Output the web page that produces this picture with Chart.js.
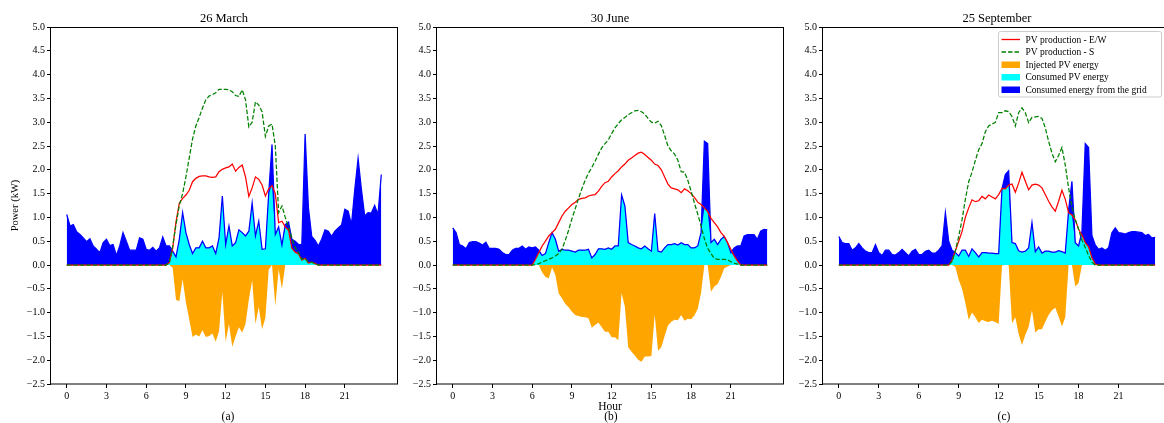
<!DOCTYPE html>
<html><head><meta charset="utf-8">
<script src="https://cdn.jsdelivr.net/npm/chart.js@4.4.0/dist/chart.umd.min.js"></script>
<style>
html,body{margin:0;padding:0;background:#fff;}
body{width:1164px;height:423px;overflow:hidden;position:relative;}
canvas{position:absolute;top:0;}
.t{position:absolute;font-family:"Liberation Serif",serif;color:#000;white-space:nowrap;transform:translate(-50%,-50%);line-height:1;}
</style></head><body>
<canvas id="c1" width="400" height="423" style="left:0px"></canvas>
<canvas id="c2" width="400" height="423" style="left:390px"></canvas>
<canvas id="c3" width="400" height="423" style="left:780px"></canvas>
<div class="t" style="left:224px;top:17.5px;font-size:12.5px">26 March</div>
<div class="t" style="left:610px;top:17.5px;font-size:12.5px">30 June</div>
<div class="t" style="left:997px;top:17.5px;font-size:12.5px">25 September</div>
<div class="t" style="left:228px;top:416.5px;font-size:11.5px">(a)</div>
<div class="t" style="left:611px;top:416.5px;font-size:11.5px">(b)</div>
<div class="t" style="left:1004px;top:416.5px;font-size:11.5px">(c)</div>
<script>
// ---------- data ----------
const hours = [0,0.25,0.5,0.75,1,1.25,1.5,1.75,2,2.25,2.5,2.75,3,3.25,3.5,3.75,4,4.25,4.5,4.75,5,5.25,5.5,5.75,
6,6.25,6.5,6.75,7,7.25,7.5,7.75,8,8.25,8.5,8.75,9,9.25,9.5,9.75,10,10.25,10.5,10.75,11,11.25,11.5,11.75,
12,12.25,12.5,12.75,13,13.25,13.5,13.75,14,14.25,14.5,14.75,15,15.25,15.5,15.75,16,16.25,16.5,16.75,17,17.25,17.5,17.75,
18,18.25,18.5,18.75,19,19.25,19.5,19.75,20,20.25,20.5,20.75,21,21.25,21.5,21.75,22,22.25,22.5,22.75,23,23.25,23.5,23.75];
const xTicks = [0,3,6,9,12,15,18,21];
const yTicks = [-2.5,-2.0,-1.5,-1.0,-0.5,0.0,0.5,1.0,1.5,2.0,2.5,3.0,3.5,4.0,4.5,5.0];
const panelTitles = ['26 March','30 June','25 September'];
const seriesLabels = ['PV production - E/W','PV production - S','Injected PV energy','Consumed PV energy','Consumed energy from the grid'];

// 26 March
const loadMar = [1.06,0.82,0.85,0.70,0.64,0.57,0.49,0.55, 0.40,0.33,0.26,0.47,0.54,0.41,0.43,0.20,
0.40,0.68,0.50,0.31,0.31,0.31,0.57,0.54, 0.33,0.31,0.37,0.29,0.36,0.59,0.40,0.40,
0.29,0.17,0.54,1.10,0.68,0.43,0.24,0.36, 0.36,0.50,0.36,0.36,0.40,0.24,0.57,1.45,
0.43,0.82,0.40,0.47,0.74,0.68,0.61,0.71, 1.30,0.61,0.92,0.33,0.34,1.50,2.53,0.64,
0.80,0.42,0.85,0.90,0.54,0.50,0.43,0.43, 2.75,1.20,0.60,0.52,0.40,0.54,0.74,0.71,
0.60,0.71,0.78,0.84,1.17,1.13,0.85,1.59, 2.24,1.59,1.03,1.10,1.09,1.25,1.06,1.90];
const pvEWMar = [0,0,0,0,0,0,0,0, 0,0,0,0,0,0,0,0,
0,0,0,0,0,0,0,0, 0,0,0,0,0,0,0,0.05,
0.35,0.90,1.30,1.40,1.47,1.57,1.75,1.82, 1.86,1.87,1.87,1.85,1.84,1.85,1.96,2.01,
2.04,2.06,2.12,1.97,2.05,2.10,1.85,1.44, 1.62,1.85,1.80,1.68,1.45,1.60,1.67,1.50,
0.89,0.92,0.80,0.73,0.35,0.27,0.23,0.10, 0.14,0.04,0.06,0.03,0,0,0,0,
0,0,0,0,0,0,0,0, 0,0,0,0,0,0,0,0];
const pvSMar = [0,0,0,0,0,0,0,0, 0,0,0,0,0,0,0,0,
0,0,0,0,0,0,0,0, 0,0,0,0,0,0,0,0.05,
0.40,0.85,1.25,1.50,1.85,2.25,2.65,2.92, 3.10,3.30,3.47,3.55,3.58,3.62,3.69,3.69,
3.69,3.68,3.64,3.56,3.54,3.68,3.47,2.90, 3.00,3.43,3.36,3.22,2.70,2.92,2.96,2.50,
1.10,1.24,1.00,0.80,0.57,0.36,0.26,0.12, 0.14,0.05,0.06,0.03,0,0,0,0,
0,0,0,0,0,0,0,0, 0,0,0,0,0,0,0,0];
const selfMar = [0,0,0,0,0,0,0,0, 0,0,0,0,0,0,0,0,
0,0,0,0,0,0,0,0, 0,0,0,0,0,0,0,0.05,
0.29,0.17,0.54,1.10,0.68,0.43,0.24,0.36, 0.36,0.50,0.36,0.36,0.40,0.24,0.57,1.45,
0.43,0.82,0.40,0.47,0.74,0.68,0.61,0.71, 1.30,0.61,0.92,0.33,0.34,1.50,1.67,0.64,
0.80,0.42,0.80,0.73,0.35,0.27,0.23,0.10, 0.14,0.04,0.06,0.03,0,0,0,0,
0,0,0,0,0,0,0,0, 0,0,0,0,0,0,0,0];
const injMar = [0,0,0,0,0,0,0,0, 0,0,0,0,0,0,0,0,
0,0,0,0,0,0,0,0, 0,0,0,0,0,0,0,0,
-0.06,-0.73,-0.76,-0.30,-0.79,-1.14,-1.51,-1.46, -1.50,-1.37,-1.51,-1.49,-1.44,-1.61,-1.39,-0.56,
-1.61,-1.24,-1.72,-1.50,-1.31,-1.42,-1.24,-0.73, -0.32,-1.24,-0.88,-1.35,-1.11,-0.10,0,-0.86,
-0.09,-0.50,0,0,0,0,0,0, 0,0,0,0,0,0,0,0,
0,0,0,0,0,0,0,0, 0,0,0,0,0,0,0,0];

// 30 June
const loadJun = [0.78,0.68,0.43,0.40,0.34,0.47,0.49,0.49, 0.46,0.42,0.48,0.35,0.35,0.35,0.33,0.26,
0.22,0.22,0.31,0.35,0.35,0.40,0.33,0.38, 0.36,0.38,0.31,0.20,0.24,0.47,0.68,0.54,
0.29,0.33,0.31,0.31,0.29,0.27,0.31,0.31, 0.31,0.33,0.15,0.22,0.34,0.34,0.33,0.36,
0.33,0.40,0.40,1.47,1.24,0.47,0.43,0.40, 0.36,0.34,0.40,0.34,0.29,1.08,0.29,0.27,
0.36,0.43,0.43,0.45,0.42,0.47,0.43,0.43, 0.36,0.36,0.40,0.68,2.60,2.55,0.47,0.54,
0.43,0.54,0.60,0.47,0.26,0.36,0.40,0.40, 0.61,0.64,0.64,0.64,0.54,0.71,0.75,0.74];
const pvEWJun = [0,0,0,0,0,0,0,0, 0,0,0,0,0,0,0,0,
0,0,0,0,0,0,0,0, 0,0.12,0.26,0.40,0.50,0.61,0.68,0.75,
0.89,1.03,1.13,1.20,1.27,1.32,1.38,1.40, 1.41,1.45,1.47,1.48,1.55,1.65,1.73,1.76,
1.85,1.92,1.98,2.06,2.12,2.20,2.25,2.30, 2.35,2.37,2.32,2.26,2.20,2.12,2.09,2.00,
1.85,1.70,1.62,1.60,1.58,1.52,1.60,1.56, 1.50,1.42,1.32,1.27,1.20,1.12,0.98,0.89,
0.80,0.68,0.60,0.47,0.33,0.19,0.08,0, 0,0,0,0,0,0,0,0];
const pvSJun = [0,0,0,0,0,0,0,0, 0,0,0,0,0,0,0,0,
0,0,0,0,0,0,0,0, 0,0.01,0.03,0.06,0.09,0.12,0.15,0.19,
0.24,0.33,0.52,0.73,0.97,1.18,1.40,1.60, 1.78,1.93,2.05,2.18,2.33,2.46,2.55,2.63,
2.76,2.88,2.97,3.05,3.10,3.16,3.20,3.24, 3.25,3.22,3.17,3.08,3.00,2.98,3.02,2.93,
2.72,2.50,2.40,2.33,2.20,1.96,1.95,1.78, 1.55,1.30,1.07,0.82,0.55,0.35,0.24,0.14,
0.12,0.12,0.12,0.11,0.07,0.04,0.02,0, 0,0,0,0,0,0,0,0];
const selfJun = [0,0,0,0,0,0,0,0, 0,0,0,0,0,0,0,0,
0,0,0,0,0,0,0,0, 0,0.12,0.26,0.20,0.24,0.47,0.68,0.54,
0.29,0.33,0.31,0.31,0.29,0.27,0.31,0.31, 0.31,0.33,0.15,0.22,0.34,0.34,0.33,0.36,
0.33,0.40,0.40,1.47,1.24,0.47,0.43,0.40, 0.36,0.34,0.40,0.34,0.29,1.08,0.29,0.27,
0.36,0.43,0.43,0.45,0.42,0.47,0.43,0.43, 0.36,0.36,0.40,0.68,1.20,1.12,0.47,0.54,
0.43,0.54,0.60,0.47,0.26,0.19,0.08,0, 0,0,0,0,0,0,0,0];
const injJun = [0,0,0,0,0,0,0,0, 0,0,0,0,0,0,0,0,
0,0,0,0,0,0,0,0, 0,0,0,-0.15,-0.25,-0.28,-0.05,-0.21,
-0.60,-0.70,-0.82,-0.89,-0.98,-1.05,-1.07,-1.09, -1.10,-1.12,-1.32,-1.26,-1.21,-1.31,-1.40,-1.40,
-1.52,-1.52,-1.58,-0.59,-0.88,-1.73,-1.82,-1.90, -1.99,-2.03,-1.92,-1.92,-1.91,-1.04,-1.80,-1.73,
-1.49,-1.27,-1.19,-1.15,-1.16,-1.05,-1.17,-1.13, -1.14,-1.06,-0.92,-0.59,0,0,-0.56,-0.45,
-0.40,-0.25,-0.07,-0.03,0,0,0,0, 0,0,0,0,0,0,0,0];

// 25 September
const loadSep = [0.60,0.47,0.45,0.45,0.31,0.36,0.45,0.36, 0.29,0.26,0.26,0.43,0.26,0.20,0.31,0.31,
0.22,0.21,0.26,0.33,0.26,0.19,0.29,0.33, 0.22,0.22,0.29,0.31,0.25,0.25,0.31,0.40,
1.10,0.50,0.31,0.26,0.19,0.31,0.31,0.18, 0.34,0.26,0.17,0.26,0.26,0.25,0.25,0.24,
0.24,1.60,1.90,1.98,0.47,0.45,0.30,0.27, 0.29,0.36,0.89,0.28,0.38,0.25,0.29,0.29,
0.27,0.27,0.30,0.28,0.25,1.15,1.76,0.47, 0.40,0.70,2.55,2.47,0.62,0.42,0.33,0.36,
0.31,0.36,0.68,0.78,0.68,0.67,0.65,0.68, 0.70,0.70,0.69,0.68,0.62,0.64,0.57,0.58];
const pvEWSep = [0,0,0,0,0,0,0,0, 0,0,0,0,0,0,0,0,
0,0,0,0,0,0,0,0, 0,0,0,0,0,0,0,0,
0,0,0.10,0.30,0.50,0.70,1.00,1.20, 1.37,1.33,1.35,1.44,1.39,1.47,1.43,1.39,
1.48,1.61,1.60,1.68,1.70,1.53,1.72,1.95, 1.76,1.58,1.68,1.70,1.68,1.62,1.48,1.34,
1.22,1.13,1.34,1.57,1.38,1.10,1.05,0.95, 0.75,0.63,0.47,0.38,0.15,0.02,0,0,
0,0,0,0,0,0,0,0, 0,0,0,0,0,0,0,0];
const pvSSep = [0,0,0,0,0,0,0,0, 0,0,0,0,0,0,0,0,
0,0,0,0,0,0,0,0, 0,0,0,0,0,0,0,0,
0,0,0.07,0.30,0.60,0.95,1.38,1.75, 1.95,2.20,2.42,2.55,2.80,2.92,2.96,3.00,
3.20,3.20,3.24,3.22,3.12,2.92,3.20,3.30, 3.20,2.99,3.10,3.11,3.12,3.08,2.88,2.60,
2.35,2.17,2.30,2.47,2.10,1.62,1.22,0.95, 0.75,0.52,0.37,0.20,0.06,0,0,0,
0,0,0,0,0,0,0,0, 0,0,0,0,0,0,0,0];
const selfSep = [0,0,0,0,0,0,0,0, 0,0,0,0,0,0,0,0,
0,0,0,0,0,0,0,0, 0,0,0,0,0,0,0,0,
0,0,0.10,0.26,0.19,0.31,0.31,0.18, 0.34,0.26,0.17,0.26,0.26,0.25,0.25,0.24,
0.24,1.60,1.60,1.68,0.47,0.45,0.30,0.27, 0.29,0.36,0.89,0.28,0.38,0.25,0.29,0.29,
0.27,0.27,0.30,0.28,0.25,1.10,1.05,0.47, 0.40,0.63,0.47,0.38,0.15,0.02,0,0,
0,0,0,0,0,0,0,0, 0,0,0,0,0,0,0,0];
const injSep = [0,0,0,0,0,0,0,0, 0,0,0,0,0,0,0,0,
0,0,0,0,0,0,0,0, 0,0,0,0,0,0,0,0,
0,0,0,-0.04,-0.31,-0.50,-0.80,-1.15, -1.00,-1.10,-1.22,-1.15,-1.18,-1.20,-1.17,-1.20,
-1.24,-0.01,0,0,-1.23,-1.10,-1.45,-1.68, -1.47,-1.30,-0.95,-1.42,-1.35,-1.35,-1.19,-1.05,
-0.95,-0.90,-1.08,-1.29,-1.10,0,0,-0.45, -0.38,0,0,0,0,0,0,0,
0,0,0,0,0,0,0,0, 0,0,0,0,0,0,0,0];

// ---------- drawing ----------
const SERIF = '"Liberation Serif", "Times New Roman", serif';
const C_RED = '#ff0000', C_GREEN = '#008000', C_BLUE = '#0000ff', C_CYAN = '#00ffff', C_ORANGE = '#ffa500';
const pts = arr => hours.map((h, i) => ({x: h, y: arr[i]}));

const framePlugin = {
  id: 'frame',
  afterDraw(chart) {
    const {ctx, chartArea: a} = chart;
    ctx.save();
    ctx.strokeStyle = '#000';
    ctx.lineWidth = 1;
    ctx.strokeRect(a.left - 0.5, a.top + 0.5, a.right - a.left + 1, a.bottom - a.top - 0.5);
    ctx.restore();
  }
};

const legendPlugin = {
  id: 'pvLegend',
  afterDraw(chart) {
    const ctx = chart.ctx;
    const x0 = 218.5, y0 = 31.5, w = 163, h = 65.5, r = 2;
    ctx.save();
    ctx.beginPath();
    ctx.moveTo(x0 + r, y0); ctx.lineTo(x0 + w - r, y0); ctx.quadraticCurveTo(x0 + w, y0, x0 + w, y0 + r);
    ctx.lineTo(x0 + w, y0 + h - r); ctx.quadraticCurveTo(x0 + w, y0 + h, x0 + w - r, y0 + h);
    ctx.lineTo(x0 + r, y0 + h); ctx.quadraticCurveTo(x0, y0 + h, x0, y0 + h - r);
    ctx.lineTo(x0, y0 + r); ctx.quadraticCurveTo(x0, y0, x0 + r, y0);
    ctx.closePath();
    ctx.fillStyle = 'rgba(255,255,255,0.85)';
    ctx.fill();
    ctx.strokeStyle = '#cccccc';
    ctx.lineWidth = 1;
    ctx.stroke();
    const hx0 = 221.5, hx1 = 240, tx = 245.5;
    const kinds = [
      {type: 'line', color: C_RED, dash: []},
      {type: 'line', color: C_GREEN, dash: [4.5, 2]},
      {type: 'patch', color: C_ORANGE},
      {type: 'patch', color: C_CYAN},
      {type: 'patch', color: C_BLUE}
    ];
    ctx.font = '9.5px ' + SERIF;
    ctx.textBaseline = 'middle';
    ctx.fillStyle = '#000';
    kinds.forEach((k, i) => {
      const cy = y0 + 8 + i * 12.5;
      if (k.type === 'line') {
        ctx.beginPath();
        ctx.setLineDash(k.dash);
        ctx.strokeStyle = k.color;
        ctx.lineWidth = 1.3;
        ctx.moveTo(hx0, cy); ctx.lineTo(hx1, cy);
        ctx.stroke();
        ctx.setLineDash([]);
      } else {
        ctx.fillStyle = k.color;
        ctx.fillRect(hx0, cy - 3, hx1 - hx0, 6.5);
      }
      ctx.fillStyle = '#000';
      ctx.fillText(seriesLabels[i], tx, cy + 0.5);
    });
    ctx.restore();
  }
};

function makePanel(id, load, pvEW, pvS, self, inj, yAxisWidth, padRight, opts) {
  const lineDs = (label, data, color, dash) => ({
    label, data: pts(data), borderColor: color, borderWidth: 1.25, borderDash: dash || [],
    pointRadius: 0, fill: false, tension: 0
  });
  const fillDs = (label, data, color) => ({
    label, data: pts(data), borderColor: 'rgba(0,0,0,0)', borderWidth: 0, backgroundColor: color,
    pointRadius: 0, fill: 'origin', tension: 0
  });
  const datasets = [
    lineDs(seriesLabels[1], pvS, C_GREEN, [4.5, 2]),
    lineDs(seriesLabels[0], pvEW, C_RED),
    lineDs('load', load, C_BLUE),
    fillDs(seriesLabels[3], self, C_CYAN),
    fillDs(seriesLabels[2], inj, C_ORANGE),
    fillDs(seriesLabels[4], load, C_BLUE)
  ];
  const tickFont = {family: SERIF, size: 10};
  const plugins = [framePlugin];
  if (opts.legend) plugins.push(legendPlugin);
  return new Chart(document.getElementById(id), {
    type: 'line',
    data: {datasets},
    plugins,
    options: {
      responsive: false, animation: false, events: [],
      layout: {padding: {top: 27, bottom: 0, left: 0, right: padRight}},
      plugins: {legend: {display: false}, tooltip: {enabled: false}, title: {display: false}},
      scales: {
        x: {
          type: 'linear', min: -1.1875, max: 24.9375,
          afterBuildTicks: s => { s.ticks = xTicks.map(v => ({value: v})); },
          afterFit: s => { s.height = 39; },
          ticks: {font: tickFont, color: '#000', padding: 2, maxRotation: 0, autoSkip: false,
                  callback: v => String(v)},
          grid: {display: true, drawOnChartArea: false, drawTicks: true, tickLength: 4,
                 color: '#000', tickColor: '#000', lineWidth: 1},
          border: {display: false},
          title: opts.xTitle ? {display: true, text: opts.xTitle, color: '#000',
                 font: {family: SERIF, size: 11.5}, padding: {top: 0, bottom: 8.8}} : {display: false}
        },
        y: {
          type: 'linear', min: -2.5, max: 5.0,
          afterBuildTicks: s => { s.ticks = yTicks.map(v => ({value: v})); },
          afterFit: s => { s.width = yAxisWidth; },
          ticks: {font: tickFont, color: '#000', padding: 2,
                  callback: v => Number(v).toFixed(1).replace('-', '\u2212')},
          grid: {display: true, drawOnChartArea: false, drawTicks: true, tickLength: 4,
                 color: '#000', tickColor: '#000', lineWidth: 1},
          border: {display: false},
          title: opts.yTitle ? {display: true, text: opts.yTitle, color: '#000',
                 font: {family: SERIF, size: 10.5}, padding: {top: 8.7, bottom: 0}} : {display: false}
        }
      }
    }
  });
}

makePanel('c1', loadMar, pvEWMar, pvSMar, selfMar, injMar, 51, 3, {yTitle: 'Power (kW)'});
makePanel('c2', loadJun, pvEWJun, pvSJun, selfJun, injJun, 47, 7, {xTitle: 'Hour'});
makePanel('c3', loadSep, pvEWSep, pvSSep, selfSep, injSep, 43, 9, {legend: true});
</script>
</body></html>
